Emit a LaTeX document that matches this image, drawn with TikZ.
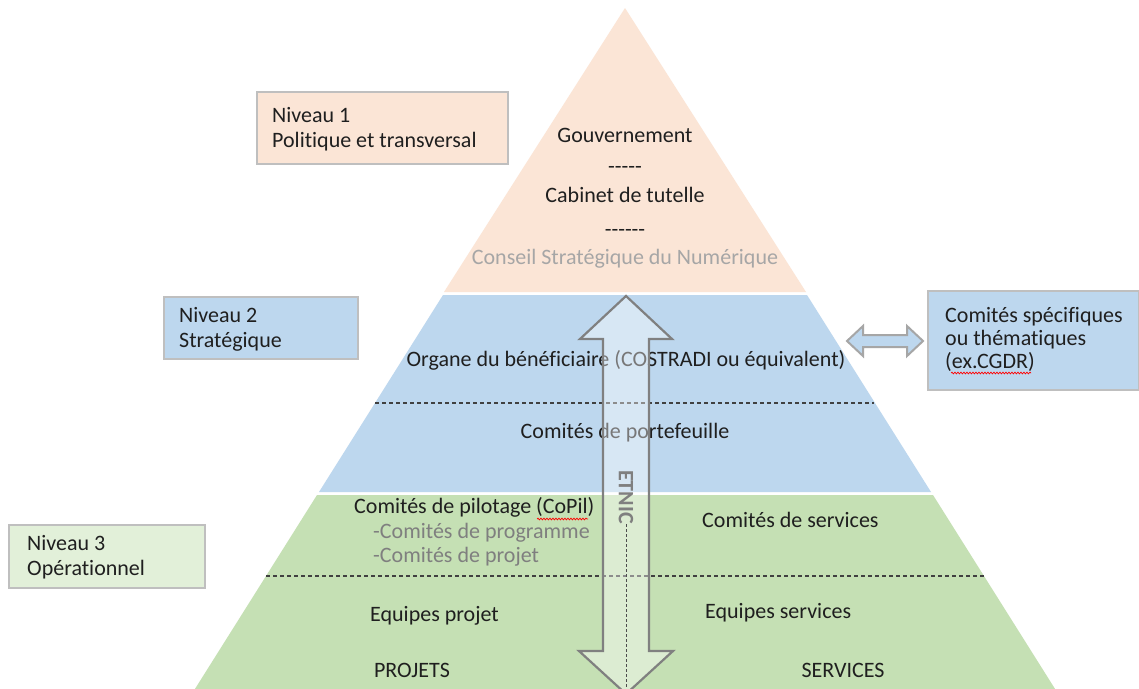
\documentclass[tikz,border=0pt]{standalone}
\usepackage{fontspec}
\setmainfont{Carlito}[Ligatures=NoCommon]
\usetikzlibrary{decorations.pathmorphing}
\definecolor{peach}{HTML}{FBE5D6}
\definecolor{bluel}{HTML}{BDD7EE}
\definecolor{greenl}{HTML}{C5E0B4}
\definecolor{greenbox}{HTML}{E2F0D9}
\definecolor{boxline}{HTML}{BFBFBF}
\definecolor{txtc}{HTML}{1F1F1F}
\definecolor{grayA}{HTML}{A6A6A6}
\definecolor{grayB}{HTML}{7F7F7F}
\definecolor{arrline}{HTML}{808080}
\begin{document}
\begin{tikzpicture}[x=1pt,y=-1pt,
  txt/.style={font=\fontsize{22}{25}\selectfont, text=txtc, inner sep=0pt, anchor=base},
  ltxt/.style={txt, anchor=base west},
  lvlbox/.style={draw=boxline, line width=2pt, anchor=north west, inner sep=0pt},
  sepline/.style={dash pattern=on 4pt off 3pt, line width=1.1pt, draw=black!75},
  bigarr/.style={draw=arrline, line width=2.2pt, line join=miter, fill=white, fill opacity=0.4},
  smallarr/.style={draw=grayA, line width=2pt, line join=miter, fill=bluel},
  squig/.style={draw=red, line width=0.7pt, decorate, decoration={snake, amplitude=0.9pt, segment length=3pt}}]
\useasboundingbox (0,0) rectangle (1139,688);
\clip (0,0) rectangle (1139,688);
\fill[white] (0,0) rectangle (1139,688);
% pyramid layers
\fill[peach] (625,8) -- (806,292) -- (444,292) -- cycle;
\fill[bluel] (443,295) -- (807,295) -- (931,492) -- (319,492) -- cycle;
\fill[greenl] (317,495) -- (933,495) -- (1062,700) -- (188,700) -- cycle;
% separators
\coordinate (d1l) at (375,403);
\coordinate (d1r) at (874,403);
\coordinate (d2l) at (266,576);
\coordinate (d2r) at (984,576);
\draw[sepline] (d1l) -- (d1r);
\draw[sepline] (d2l) -- (d2r);
% level 1 texts
\node[txt] (gouv) at (625,142) {Gouvernement};
\node[txt] (dash1) at (625,173) {{-}{-}{-}{-}{-}};
\node[txt] (cab) at (625,202) {Cabinet de tutelle};
\node[txt] (dash2) at (625,236) {{-}{-}{-}{-}{-}{-}};
\node[txt, text=grayA] (csn) at (625,264) {Conseil Stratégique du Numérique};
% level 2 texts
\node[txt] (organe) at (626,366) {Organe du bénéficiaire (COSTRADI ou équivalent)};
\node[txt] (portef) at (625,438) {Comités de portefeuille};
% level 3 texts
\node[ltxt] (copil) at (354,513) {Comités de pilotage (CoPil)};
\node[ltxt, text=grayB] (cprog) at (373,538) {-Comités de programme};
\node[ltxt, text=grayB] (cproj) at (373,562) {-Comités de projet};
\node[ltxt] (csrv) at (702,527) {Comités de services};
\node[ltxt] (eqproj) at (370,621) {Equipes projet};
\node[ltxt] (eqsrv) at (705,618) {Equipes services};
\node[txt] (projets) at (412,677) {PROJETS};
\node[txt] (services) at (843,677) {SERVICES};
\draw[squig] (537,519) -- (588,519);
% level boxes
\node[lvlbox, fill=peach, minimum width=251pt, minimum height=72pt] (n1) at (256,91) {};
\node[ltxt] (n1a) at (272,122) {Niveau 1};
\node[ltxt] (n1b) at (272,147) {Politique et transversal};
\node[lvlbox, fill=bluel, minimum width=194pt, minimum height=62pt] (n2) at (163,296) {};
\node[ltxt] (n2a) at (179,322) {Niveau 2};
\node[ltxt] (n2b) at (179,347) {Stratégique};
\node[lvlbox, fill=greenbox, minimum width=196pt, minimum height=63pt] (n3) at (8,524) {};
\node[ltxt] (n3a) at (27,550) {Niveau 3};
\node[ltxt] (n3b) at (27,575) {Opérationnel};
% right box
\node[lvlbox, fill=bluel, minimum width=211pt, minimum height=99pt] (rb) at (927,290) {};
\node[ltxt] (rba) at (945,322) {Comités spécifiques};
\node[ltxt] (rbb) at (945,345) {ou thématiques};
\node[ltxt] (rbc) at (945,368) {(ex.CGDR)};
\draw[squig] (951,373) -- (1031,373);
% horizontal double arrow
\coordinate (hl) at (847,341);
\coordinate (hr) at (923,341);
\draw[smallarr] (hl) -- (863,326) -- (863,335) -- (907,335) -- (907,326) -- (hr)
  -- (907,356) -- (907,347) -- (863,347) -- (863,356) -- cycle;
% ETNIC double arrow
\coordinate (et) at (626,296);
\coordinate (eb) at (626,694);
\draw[bigarr] (et) -- (672,339) -- (649,339) -- (649,651) -- (673,651) -- (eb)
  -- (579,651) -- (603,651) -- (603,339) -- (580,339) -- cycle;
\coordinate (vd1) at (626,524);
\coordinate (vd2) at (626,690);
\draw[dash pattern=on 3pt off 2pt, line width=0.8pt, draw=black!70] (vd1) -- (vd2);
\node[font=\fontsize{22}{25}\selectfont\bfseries, text=grayB, rotate=-90, inner sep=0pt] (etnic) at (626,497) {ETNIC};
\end{tikzpicture}
\end{document}
